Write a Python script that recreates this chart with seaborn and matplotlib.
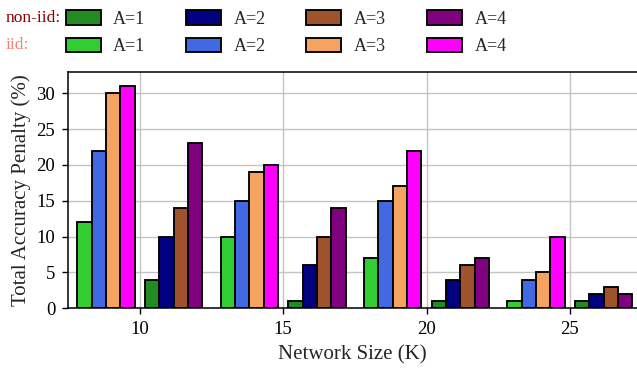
import matplotlib
matplotlib.use("Agg")
import numpy as np
import pandas as pd
import seaborn as sns
import matplotlib.pyplot as plt
from matplotlib.patches import Patch

# ---- data ----
network_sizes = [10, 15, 20, 25]
levels = ["A=1", "A=2", "A=3", "A=4"]
iid_a1 = [12, 10, 7, 1]
iid_a2 = [22, 15, 15, 4]
iid_a3 = [30, 19, 17, 5]
iid_a4 = [31, 20, 22, 10]
noniid_a1 = [4, 1, 1, 1]
noniid_a2 = [10, 6, 4, 2]
noniid_a3 = [14, 10, 6, 3]
noniid_a4 = [23, 14, 7, 2]

iid_colors = ["#32CD32", "#4169E1", "#F4A460", "#FF00FF"]
noniid_colors = ["#228B22", "#000080", "#A0522D", "#800080"]

# ---- layout ----
bar_w = 0.5
half_gap = 0.18

sns.set_style("ticks", {"axes.grid": True, "grid.color": "#c4c4c4"})
plt.rcParams["font.family"] = ["Liberation Serif", "DejaVu Serif"]

rows = []
iid_series = [iid_a1, iid_a2, iid_a3, iid_a4]
noniid_series = [noniid_a1, noniid_a2, noniid_a3, noniid_a4]
palette = {}
for j, lev in enumerate(levels):
    iid_off = -half_gap - bar_w * (3 - j) - bar_w / 2
    non_off = half_gap + bar_w * j + bar_w / 2
    palette["iid " + lev] = iid_colors[j]
    palette["non-iid " + lev] = noniid_colors[j]
    for k, K in enumerate(network_sizes):
        rows.append({"pos": round(K + iid_off, 4), "value": iid_series[j][k], "series": "iid " + lev})
        rows.append({"pos": round(K + non_off, 4), "value": noniid_series[j][k], "series": "non-iid " + lev})
df = pd.DataFrame(rows)

fig = plt.figure(figsize=(6.37, 3.70), dpi=100)
ax = fig.add_axes([67.7 / 637, 61.7 / 370, (637 - 67.7) / 637, (308.3 - 71.7) / 370])

sns.barplot(data=df, x="pos", y="value", hue="series", palette=palette,
            native_scale=True, dodge=False, width=1.0, errorbar=None, saturation=1,
            edgecolor="black", linewidth=1.35, legend=False, ax=ax)

ax.set_axisbelow(True)
ax.grid(True, color="#c4c4c4", linewidth=1.0)
ax.set_xticks(network_sizes)
ax.set_xticklabels([str(k) for k in network_sizes])
ax.set_yticks([0, 5, 10, 15, 20, 25, 30])
ax.set_xlim(7.48, 27.34)
ax.set_ylim(0, 33)
ax.spines["right"].set_visible(False)
for s in ["left", "top", "bottom"]:
    ax.spines[s].set_linewidth(1.1)
    ax.spines[s].set_color("black")
ax.tick_params(direction="out", length=4, width=1, colors="black", labelsize=13.5, pad=5)
ax.set_xlabel("Network Size (K)", fontsize=15, labelpad=5)
ax.set_ylabel("Total Accuracy Penalty (%)", fontsize=15, labelpad=4)

handles, labels = [], []
for j, lev in enumerate(levels):
    handles.append(Patch(facecolor=noniid_colors[j], edgecolor="black", linewidth=1.35))
    labels.append(lev)
    handles.append(Patch(facecolor=iid_colors[j], edgecolor="black", linewidth=1.35))
    labels.append(lev)
fig.legend(handles, labels, ncol=4, loc="upper left",
           bbox_to_anchor=(65.5 / 637, 1 - 10.5 / 370), frameon=False,
           borderpad=0, borderaxespad=0, handlelength=1.94, handleheight=0.83,
           handletextpad=0.7, columnspacing=2.25, labelspacing=0.54, fontsize=13)
fig.text(6 / 637, 1 - 18 / 370, "non-iid:", color="#8B0000", va="center", ha="left", fontsize=12.5)
fig.text(6 / 637, 1 - 45 / 370, "iid:", color="#FA8072", va="center", ha="left", fontsize=12.5)

fig.savefig("out.png", dpi=100)
